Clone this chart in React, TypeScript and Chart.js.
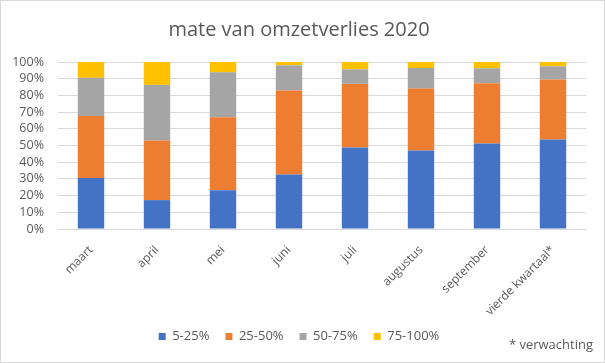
import React, { useEffect, useRef } from "react";
import Chart from "chart.js/auto";

const categories = ["maart", "april", "mei", "juni", "juli", "augustus", "september", "vierde kwartaal*"];
const seriesNames = ["5-25%", "25-50%", "50-75%", "75-100%"];
const s5_25 = [30.5, 17.3, 23.2, 32.7, 48.8, 47.0, 51.2, 53.6];
const s25_50 = [37.2, 35.7, 43.7, 50.2, 38.1, 37.1, 36.1, 35.9];
const s50_75 = [22.8, 33.3, 26.9, 15.1, 8.7, 12.3, 8.9, 7.9];
const s75_100 = [9.5, 13.7, 6.2, 2.0, 4.4, 3.6, 3.8, 2.6];
const colors = ["#4472C4", "#ED7D31", "#A5A5A5", "#FFC000"];
const title = "mate van omzetverlies 2020";
const footnote = "* verwachting";

const FONT = "'Open Sans', 'Liberation Sans', sans-serif";
const TEXT = "#595959";

export default function App() {
  const ref = useRef<HTMLCanvasElement | null>(null);
  useEffect(() => {
    if (!ref.current) return;
    const values = [s5_25, s25_50, s50_75, s75_100];
    const chart = new Chart(ref.current, {
      type: "bar",
      data: {
        labels: categories,
        datasets: seriesNames.map((n, i) => ({
          label: n,
          data: values[i],
          backgroundColor: colors[i],
          borderWidth: 0,
          categoryPercentage: 1,
          barPercentage: 0.4,
        })),
      },
      options: {
        responsive: false,
        animation: false,
        layout: { padding: { left: 12, right: 19, top: 0, bottom: 10 } },
        plugins: {
          title: {
            display: true,
            text: title,
            color: TEXT,
            font: { family: FONT, size: 20, weight: "normal", lineHeight: 1.2 },
            padding: { top: 18, bottom: 20 },
          },
          legend: {
            position: "bottom",
            labels: {
              color: TEXT,
              font: { family: FONT, size: 13 },
              boxWidth: 7,
              boxHeight: 7,
              padding: 16,
            },
          },
          tooltip: { enabled: false },
        },
        scales: {
          x: {
            stacked: true,
            grid: { display: false, drawTicks: false },
            border: { display: true, color: "#D9D9D9" },
            ticks: {
              color: TEXT,
              font: { family: FONT, size: 12 },
              minRotation: 45,
              maxRotation: 45,
              padding: 14,
            },
            afterFit: (scale: any) => {
              scale.height = 85;
              scale.paddingLeft = 0;
              scale.paddingRight = 0;
            },
          },
          y: {
            stacked: true,
            min: 0,
            max: 100,
            grid: { color: "#D9D9D9", drawTicks: false },
            border: { display: false },
            ticks: {
              stepSize: 10,
              autoSkip: false,
              color: TEXT,
              font: { family: FONT, size: 12.5 },
              padding: 14,
              callback: (v: any) => v + "%",
            },
            afterFit: (scale: any) => {
              scale.width = 46;
            },
          },
        },
      },
    });
    return () => chart.destroy();
  }, []);
  return (
    <div style={{ position: "fixed", left: 0, top: 0, width: 605, height: 363, background: "#fff" }}>
      <canvas ref={ref} width={605} height={363} style={{ position: "absolute", left: 0, top: 0 }} />
      <div
        style={{
          position: "absolute",
          right: 12,
          top: 335,
          fontFamily: FONT,
          fontSize: 13,
          lineHeight: "18px",
          color: TEXT,
          whiteSpace: "nowrap",
        }}
      >
        {footnote}
      </div>
      <div
        style={{
          position: "absolute",
          left: 0,
          top: 0,
          width: 605,
          height: 363,
          boxSizing: "border-box",
          border: "1px solid #D9D9D9",
          pointerEvents: "none",
        }}
      />
    </div>
  );
}
